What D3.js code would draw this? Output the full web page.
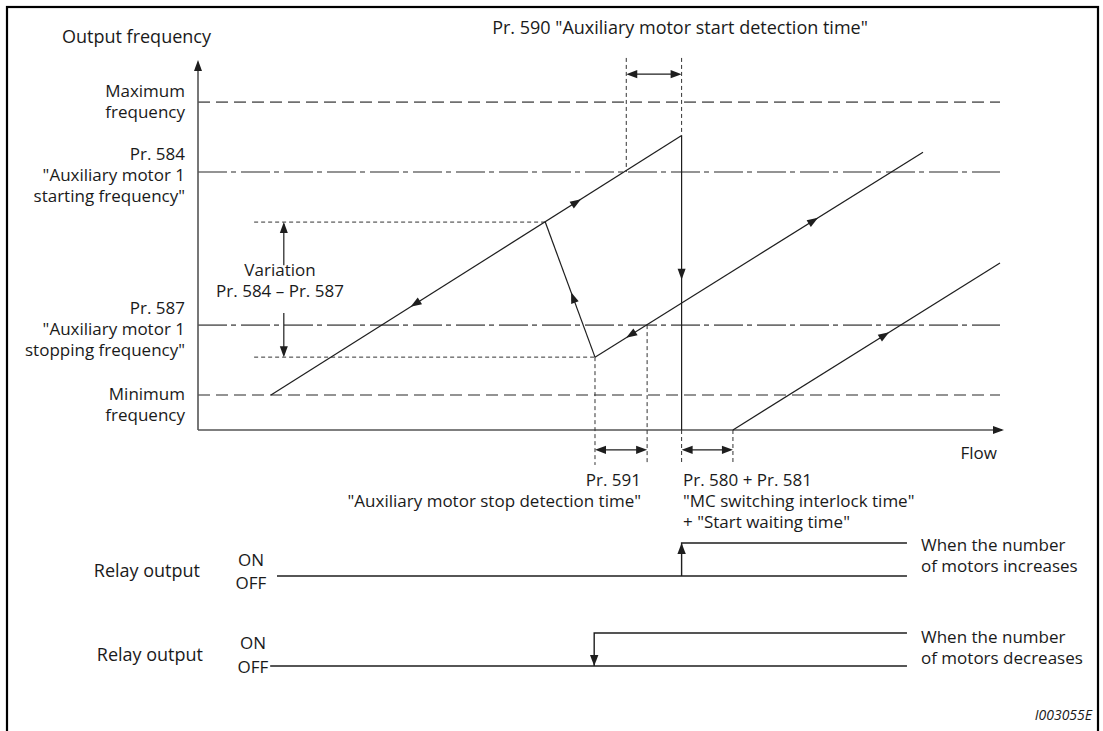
<!DOCTYPE html>
<html>
<head>
<meta charset="utf-8">
<script src="https://cdn.jsdelivr.net/npm/d3@7"></script>
<style>
  html, body { margin: 0; padding: 0; background: #fff; }
  svg { display: block; }
  text { font-family: "Open Sans", "Noto Sans", sans-serif; fill: #1a1a1a; }
</style>
</head>
<body>
<svg id="chart" width="1103" height="731"></svg>
<script>
// ---------------- data (flow units 0..100, frequency units 0..100) ----------------
const levelLabels = [
  ["Maximum", "frequency"],
  ["Pr. 584", "\"Auxiliary motor 1", "starting frequency\""],
  ["Pr. 587", "\"Auxiliary motor 1", "stopping frequency\""],
  ["Minimum", "frequency"]
];
const levelValues = [89.1, 70.1, 28.5, 9.5];
const levelStyles = ["dash", "dashdot", "dashdot", "dash"];

const variationValues = [56.5, 19.8];          // upper / lower variation band
const rampUp        = [[9.1, 9.5], [60.3, 80.0]];
const dropAtStart   = [[60.3, 80.0], [60.3, 0]];
const jumpAtStop    = [[49.5, 19.8], [43.3, 56.5]];
const rampAfterStop = [[49.5, 19.8], [90.4, 75.5]];
const rampAfterStart= [[66.7, 0], [100, 45.4]];

const startDetect   = [53.4, 60.3];   // Pr. 590
const stopDetect    = [49.5, 56.0];   // Pr. 591
const interlockWait = [60.3, 66.7];   // Pr. 580 + Pr. 581

const relayLabels   = [["When the number", "of motors increases"], ["When the number", "of motors decreases"]];
const relaySwitchAt = [60.3, 49.4];
const relayStates   = [[0, 1], [1, 0]];   // arrow from state -> state at the switching point

// ---------------- layout ----------------
const svg = d3.select("#chart");
const x = d3.scaleLinear().domain([0, 100]).range([198, 1000]);
const y = d3.scaleLinear().domain([0, 100]).range([430, 62]);

const C_AXIS = "#555", C_REF = "#707070", C_LINE = "#1e1e1e", C_DOT = "#333";
const FS = 17;

// frame
svg.append("rect").attr("x", 7).attr("y", 7).attr("width", 1091).attr("height", 760)
  .attr("fill", "none").attr("stroke", "#000").attr("stroke-width", 2.2);

function arrowHead(tx, ty, angle, len = 10, hw = 3.6) {
  const bx = tx - len * Math.cos(angle), by = ty - len * Math.sin(angle);
  const px = -Math.sin(angle) * hw, py = Math.cos(angle) * hw;
  svg.append("path")
    .attr("d", `M${tx},${ty}L${bx + px},${by + py}L${bx - px},${by - py}Z`)
    .attr("fill", C_LINE);
}
function seg(p, q, color, width, dash) {
  const l = svg.append("line").attr("x1", p[0]).attr("y1", p[1]).attr("x2", q[0]).attr("y2", q[1])
    .attr("stroke", color).attr("stroke-width", width);
  if (dash) l.attr("stroke-dasharray", dash);
  return l;
}
function arrowOn(points, t) {
  const p = [x(points[0][0]), y(points[0][1])], q = [x(points[1][0]), y(points[1][1])];
  const ang = Math.atan2(q[1] - p[1], q[0] - p[0]);
  arrowHead(p[0] + (q[0] - p[0]) * t, p[1] + (q[1] - p[1]) * t, ang, 11, 4);
}
function rev(points) { return [points[1], points[0]]; }

// reference levels
levelValues.forEach((v, i) => {
  seg([x(0), y(v)], [x(100), y(v)], C_REF, 1.6, levelStyles[i] === "dash" ? "12,6" : "29,4,5,5");
});

// level labels
const labelBaselines = [[97, 118], [160, 181, 202], [314, 335, 356], [400, 421]];
levelLabels.forEach((lines, i) => {
  const t = svg.append("text").attr("text-anchor", "end").attr("font-size", FS);
  lines.forEach((s, j) => t.append("tspan").attr("x", 185).attr("y", labelBaselines[i][j]).text(s));
});

// axes
const xAxis = d3.axisBottom(x).tickValues([]).tickSizeOuter(0);
const yAxis = d3.axisLeft(y).tickValues([]).tickSizeOuter(0);
svg.append("g").attr("transform", `translate(0,${y(0)})`).call(xAxis)
  .select(".domain").attr("stroke", C_AXIS).attr("stroke-width", 1.6).attr("d", `M${x(0)},0H${x(100) + 2}`);
svg.append("g").attr("transform", `translate(${x(0)},0)`).call(yAxis)
  .select(".domain").attr("stroke", C_AXIS).attr("stroke-width", 1.6).attr("d", `M0,${y(0)}V${y(100) + 2}`);
arrowHead(x(100) + 4, y(0), 0, 11, 4);
arrowHead(x(0), y(100) - 2, -Math.PI / 2, 11, 4);

svg.append("text").attr("x", 62).attr("y", 43).attr("font-size", 18).text("Output frequency");
svg.append("text").attr("x", 997).attr("y", 459).attr("text-anchor", "end").attr("font-size", FS).text("Flow");

// variation guides (dotted)
seg([x(7.0), y(variationValues[0])], [x(jumpAtStop[1][0]), y(variationValues[0])], C_DOT, 1, "4,3");
seg([x(7.0), y(variationValues[1])], [x(jumpAtStop[0][0]), y(variationValues[1])], C_DOT, 1, "4,3");
const vx = x(10.7);
seg([vx, y(44.8)], [vx, y(variationValues[0]) + 2], C_LINE, 1.2);
arrowHead(vx, y(variationValues[0]), -Math.PI / 2, 11, 4);
seg([vx, y(31.8)], [vx, y(variationValues[1]) - 2], C_LINE, 1.2);
arrowHead(vx, y(variationValues[1]), Math.PI / 2, 11, 4);
svg.append("text").attr("x", 280).attr("y", 276).attr("text-anchor", "middle").attr("font-size", FS).text("Variation");
svg.append("text").attr("x", 280).attr("y", 297).attr("text-anchor", "middle").attr("font-size", FS).text("Pr. 584 \u2013 Pr. 587");

// vertical dotted timing guides
seg([x(startDetect[0]), y(101.1)], [x(startDetect[0]), y(levelValues[1])], C_DOT, 1, "4,3");
seg([x(startDetect[1]), y(101.1)], [x(startDetect[1]), y(rampUp[1][1])], C_DOT, 1, "4,3");
seg([x(stopDetect[0]), y(variationValues[1])], [x(stopDetect[0]), y(-9.5)], C_DOT, 1, "4,3");
seg([x(stopDetect[1]), y(levelValues[2])], [x(stopDetect[1]), y(-9.5)], C_DOT, 1, "4,3");
seg([x(interlockWait[0]), y(0)], [x(interlockWait[0]), y(-9.5)], C_DOT, 1, "4,3");
seg([x(interlockWait[1]), y(0)], [x(interlockWait[1]), y(-9.5)], C_DOT, 1, "4,3");

function dimArrow(span, yv) {
  const a = x(span[0]), b = x(span[1]), yy = y(yv);
  seg([a + 4, yy], [b - 4, yy], C_LINE, 1.4);
  arrowHead(a, yy, Math.PI, 11, 4.2);
  arrowHead(b, yy, 0, 11, 4.2);
}
dimArrow(startDetect, 96.7);
dimArrow(stopDetect, -5.4);
dimArrow(interlockWait, -5.4);

// frequency curve
[rampUp, dropAtStart, jumpAtStop, rampAfterStop, rampAfterStart].forEach(s => {
  seg([x(s[0][0]), y(s[0][1])], [x(s[1][0]), y(s[1][1])], C_LINE, 1.2);
});
arrowOn(rampUp, 0.755);
arrowOn(rev(rampUp), 0.66);
arrowOn(dropAtStart, 0.49);
arrowOn(jumpAtStop, 0.48);
arrowOn(rev(rampAfterStop), 0.905);
arrowOn(rampAfterStop, 0.68);
arrowOn(rampAfterStart, 0.585);

// top annotation
svg.append("text").attr("x", 680).attr("y", 34).attr("text-anchor", "middle").attr("font-size", 18)
  .text("Pr. 590 \"Auxiliary motor start detection time\"");

// bottom annotations
const t591 = svg.append("text").attr("text-anchor", "end").attr("font-size", FS);
t591.append("tspan").attr("x", 641).attr("y", 486).text("Pr. 591");
t591.append("tspan").attr("x", 641).attr("y", 507).text("\"Auxiliary motor stop detection time\"");
const t580 = svg.append("text").attr("font-size", FS);
t580.append("tspan").attr("x", 683).attr("y", 486).text("Pr. 580 + Pr. 581");
t580.append("tspan").attr("x", 683).attr("y", 507).text("\"MC switching interlock time\"");
t580.append("tspan").attr("x", 683).attr("y", 528).text("+ \"Start waiting time\"");

// relay outputs
const relayOffY = [576, 666];
const relayStartX = [9.85, 9.0];
const relayEndX = 88.4;
const relayLabelX = [200, 203], onOffX = [251, 253];
const relayTextDy = [[1, -10, 13], [-5, -17, 7]];
relayStates.forEach((st, i) => {
  const ry = d3.scaleLinear().domain([0, 1]).range([relayOffY[i], relayOffY[i] - 33]);
  const sx = x(relaySwitchAt[i]);
  // OFF level over the whole width
  seg([x(relayStartX[i]), ry(0)], [x(relayEndX), ry(0)], C_LINE, 1.4);
  // ON level from the switching point on, with the switching edge
  svg.append("path").attr("d", d3.line()([[x(relayEndX), ry(1)], [sx, ry(1)], [sx, ry(0)]]))
    .attr("fill", "none").attr("stroke", C_LINE).attr("stroke-width", 1.4);
  arrowHead(sx, ry(st[1]), st[1] > st[0] ? -Math.PI / 2 : Math.PI / 2, 11, 4.2);
  const off = relayOffY[i];
  svg.append("text").attr("x", relayLabelX[i]).attr("y", off + relayTextDy[i][0]).attr("text-anchor", "end")
    .attr("font-size", 18).text("Relay output");
  svg.append("text").attr("x", onOffX[i]).attr("y", off + relayTextDy[i][1]).attr("text-anchor", "middle")
    .attr("font-size", FS).text("ON");
  svg.append("text").attr("x", onOffX[i]).attr("y", off + relayTextDy[i][2]).attr("text-anchor", "middle")
    .attr("font-size", FS).text("OFF");
  const rt = svg.append("text").attr("font-size", FS);
  const top = i === 0 ? 551 : 643;
  relayLabels[i].forEach((s, j) => rt.append("tspan").attr("x", 921).attr("y", top + 21 * j).text(s));
});

svg.append("text").attr("x", 1092).attr("y", 720).attr("text-anchor", "end").attr("font-size", 14)
  .attr("font-style", "italic").text("I003055E");
</script>
</body>
</html>
